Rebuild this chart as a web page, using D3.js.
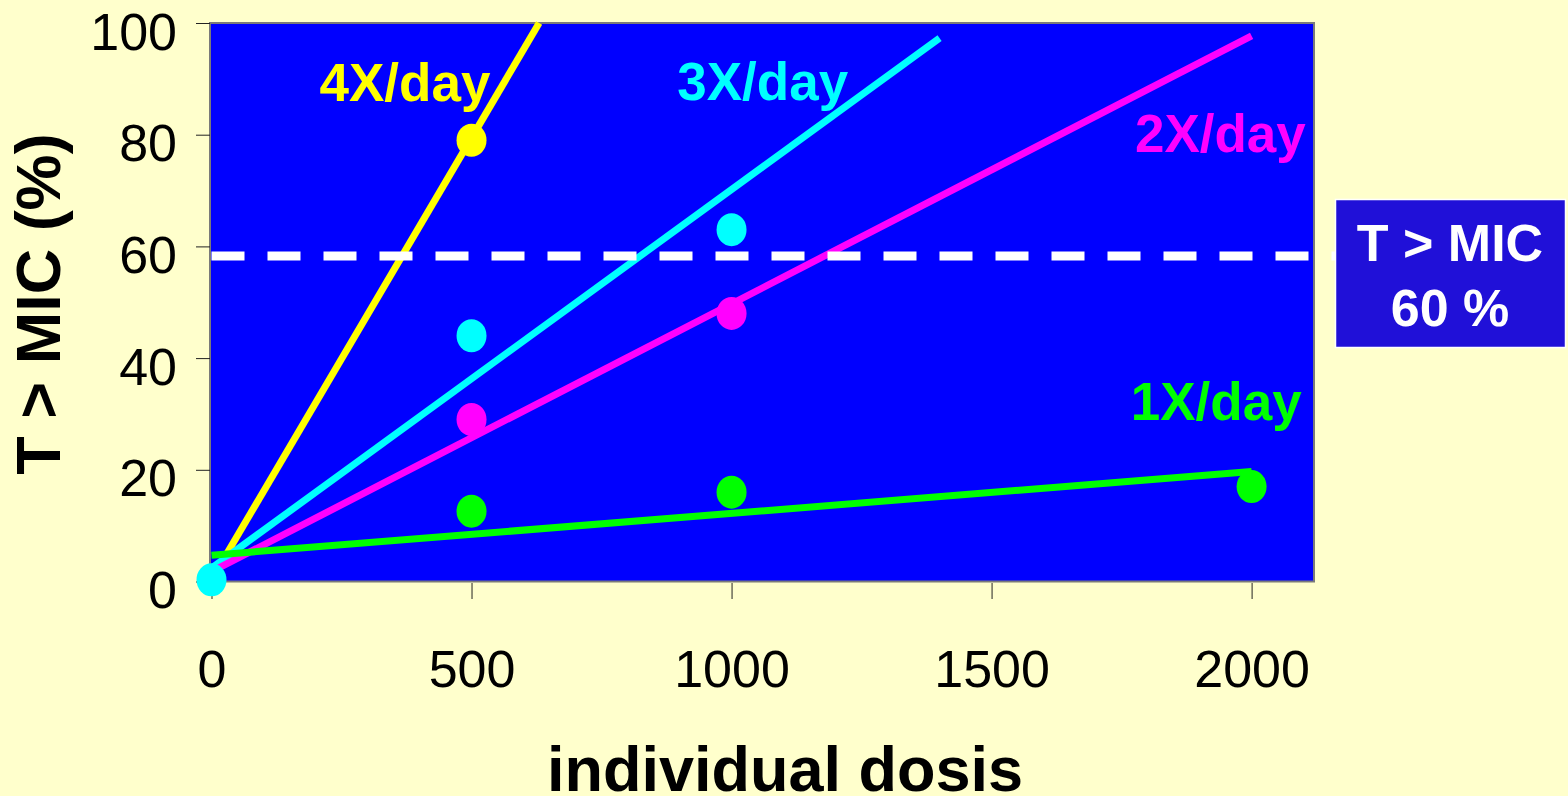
<!DOCTYPE html>
<html lang="en">
<head>
    <meta charset="UTF-8">
    <title>T > MIC vs individual dosis</title>
    <script src="https://d3js.org/d3.v7.min.js"></script>
    <style>
        body {
            margin: 0;
            background: #FFFFCC;
        }
        svg text {
            font-family: "Liberation Sans", Arial, sans-serif;
        }
        .tick line {
            stroke: #222;
        }
        .tick text {
            font-size: 52px;
            fill: #000;
        }
    </style>
</head>
<body>
    <div id="chart"></div>

    <script>
        // Values
        const xTicks = [0, 500, 1000, 1500, 2000];
        const yTicks = [0, 20, 40, 60, 80, 100];

        const seriesNames = ["4X/day", "3X/day", "2X/day", "1X/day"];
        const seriesColors = ["#FFFF00", "#00FFFF", "#FF00FF", "#00FF00"];

        // measured points per dosing regimen [dose, %T>MIC]
        const points4x = [[500, 79]];
        const points3x = [[0, 0.3], [500, 44], [1000, 63]];
        const points2x = [[500, 29], [1000, 48]];
        const points1x = [[500, 12.6], [1000, 16], [2000, 17]];

        // fitted trend lines (start and end)
        const fit4x = [[0, 0.3], [630, 100]];
        const fit3x = [[0, 2.4], [1400, 97.3]];
        const fit2x = [[0, 1.75], [2000, 97.7]];
        const fit1x = [[0, 4.7], [2000, 19.7]];

        // label anchors in data units
        const labelAnchors = [[372, 86], [1060, 86.2], [1940, 76.9], [1932, 28.9]];

        const threshold = 58.3;
        const boxLines = ["T > MIC", "60 %"];

        const xTitle = "individual dosis";
        const yTitle = "T > MIC (%)";

        // Dimensions
        const W = 1568, H = 796;
        const plot = {left: 210, top: 23, right: 1314, bottom: 581.5};

        const svg = d3.select("#chart")
            .append("svg")
            .attr("width", W)
            .attr("height", H);

        const x = d3.scaleLinear()
            .domain([0, 2120])
            .range([plot.left + 1.5, plot.right]);

        const y = d3.scaleLinear()
            .domain([0, 100])
            .range([plot.bottom, plot.top]);

        // Plot area
        svg.append("rect")
            .attr("x", plot.left)
            .attr("y", plot.top)
            .attr("width", plot.right - plot.left)
            .attr("height", plot.bottom - plot.top)
            .attr("fill", "#0000FF")
            .attr("stroke", "#7a7a7a")
            .attr("stroke-width", 2);

        // Axes
        const yAxis = svg.append("g")
            .attr("transform", `translate(${plot.left},0)`)
            .call(d3.axisLeft(y).tickValues(yTicks).tickSize(14).tickPadding(19));
        yAxis.select(".domain").remove();
        yAxis.selectAll(".tick text").attr("dy", "0.5em");

        const xAxis = svg.append("g")
            .attr("transform", `translate(0,${plot.bottom + 1.5})`)
            .call(d3.axisBottom(x).tickValues(xTicks).tickFormat(d3.format("d"))
                .tickSize(16).tickPadding(51));
        xAxis.select(".domain").remove();

        // Axis titles
        svg.append("text")
            .attr("x", 785)
            .attr("y", 791)
            .attr("text-anchor", "middle")
            .style("font-size", "63px")
            .style("font-weight", "bold")
            .text(xTitle);

        svg.append("text")
            .attr("transform", "translate(60,304) rotate(-90)")
            .attr("text-anchor", "middle")
            .style("font-size", "63px")
            .style("font-weight", "bold")
            .text(yTitle);

        // Trend lines
        const fits = [fit4x, fit3x, fit2x, fit1x];
        const line = d3.line()
            .x(d => x(d[0]))
            .y(d => y(d[1]));

        svg.selectAll(".fit")
            .data(fits)
            .enter()
            .append("path")
            .attr("class", "fit")
            .attr("d", d => line(d))
            .attr("fill", "none")
            .attr("stroke", (d, i) => seriesColors[i])
            .attr("stroke-width", 7);

        // Threshold line
        svg.append("line")
            .attr("x1", x(0))
            .attr("x2", x(2170))
            .attr("y1", y(threshold))
            .attr("y2", y(threshold))
            .attr("stroke", "#fff")
            .attr("stroke-width", 9)
            .attr("stroke-dasharray", "33,23");

        // Measured points
        const pointSets = [points4x, points3x, points2x, points1x];
        pointSets.forEach((pts, i) => {
            svg.selectAll(".pt" + i)
                .data(pts)
                .enter()
                .append("ellipse")
                .attr("class", "pt" + i)
                .attr("cx", d => x(d[0]))
                .attr("cy", d => y(d[1]))
                .attr("rx", 15)
                .attr("ry", 16.5)
                .attr("fill", seriesColors[i]);
        });

        // Series labels
        svg.selectAll(".series-label")
            .data(seriesNames)
            .enter()
            .append("text")
            .attr("class", "series-label")
            .attr("x", (d, i) => x(labelAnchors[i][0]))
            .attr("y", (d, i) => y(labelAnchors[i][1]))
            .attr("text-anchor", "middle")
            .attr("fill", (d, i) => seriesColors[i])
            .style("font-size", "53px")
            .style("font-weight", "bold")
            .text(d => d);

        // Threshold box
        svg.append("rect")
            .attr("x", 1335.5)
            .attr("y", 199.5)
            .attr("width", 230)
            .attr("height", 148)
            .attr("fill", "#2010D8")
            .attr("stroke", "#fff")
            .attr("stroke-width", 1.5);

        svg.selectAll(".box-text")
            .data(boxLines)
            .enter()
            .append("text")
            .attr("class", "box-text")
            .attr("x", 1450)
            .attr("y", (d, i) => 261 + i * 65)
            .attr("text-anchor", "middle")
            .attr("fill", "#fff")
            .style("font-size", "52px")
            .style("font-weight", "bold")
            .text(d => d);
    </script>
</body>
</html>
